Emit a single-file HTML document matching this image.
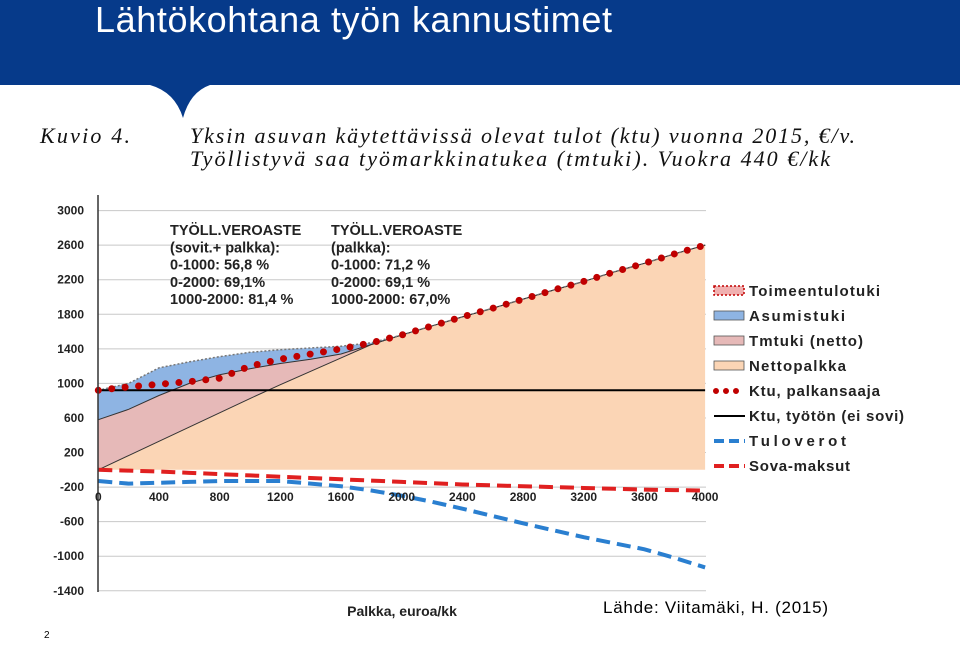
<!DOCTYPE html>
<html><head><meta charset="utf-8"><style>
body{margin:0;width:960px;height:640px;overflow:hidden;background:#fff;font-family:"Liberation Sans",sans-serif;}
</style></head><body>
<svg width="960" height="640" viewBox="0 0 960 640" xmlns="http://www.w3.org/2000/svg">
<path d="M0 0H960V85H210Q190 92 183 118Q175 92 150 85H0Z" fill="#063a8a"/>
<text x="95" y="32" fill="#fff" font-size="36" textLength="517" font-family="Liberation Sans,sans-serif">Lähtökohtana työn kannustimet</text>
<g font-family="Liberation Serif,serif" font-style="italic" font-size="22" fill="#111">
<text x="40" y="143" textLength="90">Kuvio 4.</text>
<text x="190" y="143" textLength="665">Yksin asuvan käytettävissä olevat tulot (ktu) vuonna 2015, €/v.</text>
<text x="190" y="166" textLength="640">Työllistyvä saa työmarkkinatukea (tmtuki). Vuokra 440 €/kk</text>
</g>
<g id="chart"></g>
<text x="603" y="613" font-size="17" fill="#000" textLength="225">Lähde: Viitamäki, H. (2015)</text>
<text x="44" y="638" font-size="10" fill="#000">2</text>
</svg>
<script>
const xs=[0,200,400,600,800,1000,1200,1400,1600,1800,2000,2200,2400,2600,2800,3000,3200,3400,3600,3800,4000];
const netto=[0,165,330,495,660,825,985,1140,1295,1450,1560,1665,1770,1870,1975,2080,2180,2290,2390,2500,2600];
const tmtukiTop=[580,700,860,1000,1100,1170,1230,1280,1340,1450,1560,1665,1770,1870,1975,2080,2180,2290,2390,2500,2600];
const asumTop=[920,1000,1180,1250,1310,1360,1390,1410,1430,1470,1560,1665,1770,1870,1975,2080,2180,2290,2390,2500,2600];
const ktuPalk=[920,960,990,1020,1060,1200,1280,1340,1400,1470,1560,1665,1770,1870,1975,2080,2180,2290,2390,2500,2600];
const ktuTyoton=920;
const sova=[0,-10,-20,-35,-50,-65,-80,-95,-110,-125,-140,-155,-170,-180,-190,-200,-210,-220,-230,-235,-240];
const tulovero=[-130,-160,-150,-140,-130,-130,-130,-160,-190,-240,-300,-370,-450,-535,-620,-700,-780,-850,-920,-1020,-1130];
const yTicks=[3000,2600,2200,1800,1400,1000,600,200,-200,-600,-1000,-1400];
const xTicks=[0,400,800,1200,1600,2000,2400,2800,3200,3600,4000];
const legendLabels=["Toimeentulotuki","Asumistuki","Tmtuki (netto)","Nettopalkka","Ktu, palkansaaja","Ktu, työtön (ei sovi)","Tuloverot","Sova-maksut"];
const legendWidths=[131,96,114,97,131,155,97,101];
const X=v=>98.3+v*0.1517, Y=v=>469.8-v*0.0864;
const NS="http://www.w3.org/2000/svg", g=document.getElementById('chart');
function mk(t,a,txt){const e=document.createElementNS(NS,t);for(const k in a)e.setAttribute(k,a[k]);if(txt!=null)e.textContent=txt;g.appendChild(e);return e;}
yTicks.forEach(t=>{
 const l=mk('line',{x1:98,x2:706,y1:Y(t),y2:Y(t),stroke:'#c8c8c8','stroke-width':1});
 
 
 const tx=mk('text',{x:84,y:Y(t)+4,'text-anchor':'end','font-size':12,'font-weight':'bold',fill:'#222'},t);
 
 
});
const line=a=>a.map((v,i)=>X(xs[i])+','+Y(v)).join(' ');
function area(top,bot,fill,name){const pts=top.map((v,i)=>X(xs[i])+','+Y(v)).concat(bot.map((v,i)=>X(xs[i])+','+Y(v)).reverse());
 const p=mk('polygon',{points:pts.join(' '),fill:fill,stroke:'none'});
 
 }
area(netto,xs.map(()=>0),'#fbd5b5','area-nettopalkka');
area(tmtukiTop,netto,'#e6b9b8','area-tmtuki');
area(asumTop,tmtukiTop,'#8eb4e3','area-asumistuki');
[[netto,'line-netto'],[tmtukiTop,'line-tmtuki-top']].forEach(([a,n])=>{const p=mk('polyline',{points:line(a),fill:'none',stroke:'#333','stroke-width':1});
 
 });
const at=mk('polyline',{points:line(asumTop),fill:'none',stroke:'#777','stroke-width':1.5,'stroke-dasharray':'2 2'});


const kt=mk('line',{x1:X(0),x2:X(4000),y1:Y(ktuTyoton),y2:Y(ktuTyoton),stroke:'#000','stroke-width':2});


const sv=mk('polyline',{points:line(sova),fill:'none',stroke:'#e02020','stroke-width':4,'stroke-dasharray':'14 7'});


const tv=mk('polyline',{points:line(tulovero),fill:'none',stroke:'#2a7fd0','stroke-width':4,'stroke-dasharray':'14 7'});


const kp=mk('polyline',{points:line(ktuPalk),fill:'none',stroke:'#c00000','stroke-width':7,'stroke-linecap':'round','stroke-dasharray':'0 13.5'});


const ya=mk('line',{x1:98,x2:98,y1:195,y2:592,stroke:'#333','stroke-width':1.5});


xTicks.forEach(t=>{const tx=mk('text',{x:X(t),y:501,'text-anchor':'middle','font-size':12,'font-weight':'bold',fill:'#222'},t);
 
 });
const xt=mk('text',{x:402,y:616,'text-anchor':'middle','font-size':14,'font-weight':'bold',fill:'#222'},'Palkka, euroa/kk');


const ann=[[170,'TYÖLL.VEROASTE','(sovit.+ palkka):','0-1000: 56,8 %','0-2000:  69,1%','1000-2000: 81,4 %'],[331,'TYÖLL.VEROASTE','(palkka):','0-1000: 71,2 %','0-2000: 69,1 %','1000-2000: 67,0%']];
ann.forEach(a=>{a.slice(1).forEach((s,i)=>{const tx=mk('text',{x:a[0],y:235+i*17.3,'font-size':14.5,'font-weight':'bold',fill:'#222'},s);
 
 });});
legendLabels.forEach((s,i)=>{const y=291+i*25;
 let m;
 if(i===0)m=mk('rect',{x:714,y:y-5,width:30,height:9,fill:'#f0b0b0',stroke:'#c00000','stroke-width':1.5,'stroke-dasharray':'2 2'});
 else if(i<4)m=mk('rect',{x:714,y:y-5,width:30,height:9,fill:['','#8eb4e3','#e6b9b8','#fbd5b5'][i],stroke:'#555','stroke-width':0.8});
 else if(i===4)m=mk('line',{x1:716,x2:745,y1:y,y2:y,stroke:'#c00000','stroke-width':6,'stroke-linecap':'round','stroke-dasharray':'0 10'});
 else if(i===5)m=mk('line',{x1:714,x2:745,y1:y,y2:y,stroke:'#000','stroke-width':2});
 else m=mk('line',{x1:714,x2:745,y1:y,y2:y,stroke:i===6?'#2a7fd0':'#e02020','stroke-width':4,'stroke-dasharray':'10 5'});
 
 
 const tx=mk('text',{x:749,y:y+5,'font-size':15,'font-weight':'bold',fill:'#222',textLength:legendWidths[i]},s);
 
 
});
</script>
</body></html>
